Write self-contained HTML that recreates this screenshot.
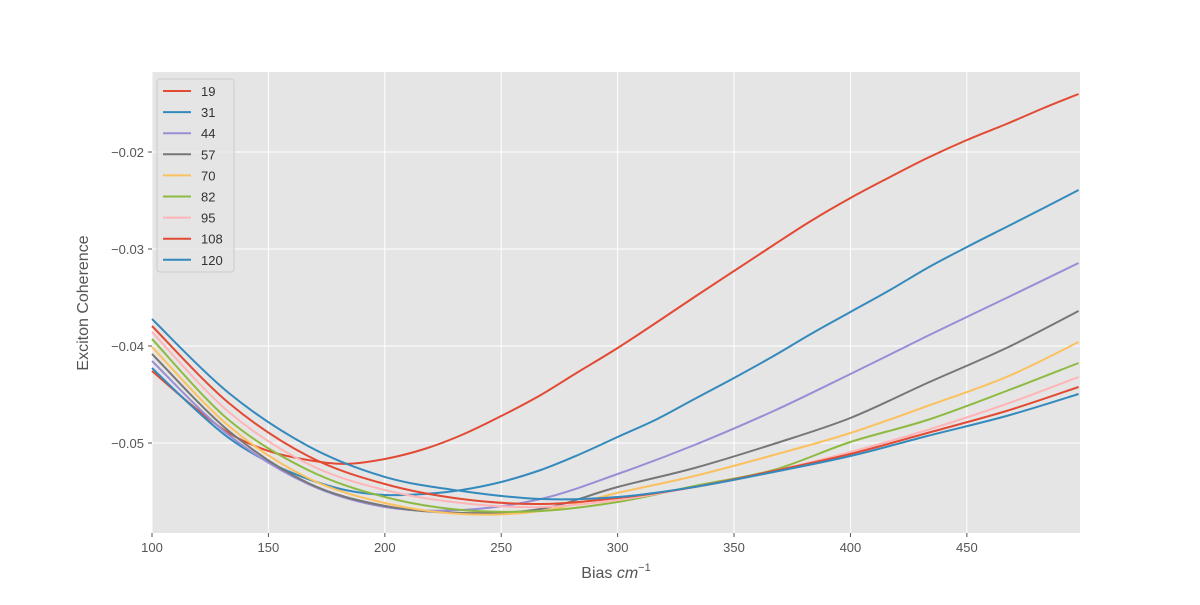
<!DOCTYPE html>
<html><head><meta charset="utf-8"><style>
body{margin:0;background:#fff;}
svg text{font-family:"Liberation Sans","DejaVu Sans",sans-serif;}
</style></head><body>
<svg id="chart" width="1200" height="600" xmlns="http://www.w3.org/2000/svg">
<rect x="152" y="72" width="928" height="461" fill="#e5e5e5"/>
<g id="grid"></g><g id="ticks"></g><g id="lines"></g><g id="legend"></g>
<text x="616" y="578" text-anchor="middle" font-size="16" fill="#555">Bias <tspan font-style="italic">cm</tspan><tspan font-size="11" dy="-7">−1</tspan></text>
<text transform="translate(88,303) rotate(-90)" text-anchor="middle" font-size="16" fill="#555">Exciton Coherence</text>
</svg>
<script>
const seriesNames = ["19","31","44","57","70","82","95","108","120"];
const colors = ["#E24A33","#348ABD","#988ED5","#777777","#FBC15E","#8EBA42","#FFB5B8","#E24A33","#348ABD"];
const xFine = [100,117,133,150,167,183,200,217,233,250,267,283,300,317,333,350,367,383,400,417,433,450,467,483,498];
const xCoarse = [100,133,167,200,233,267,300,333,367,400,433,467,498];
const y19 = [-0.04258,-0.04608,-0.04897,-0.05082,-0.05175,-0.05216,-0.05165,-0.05062,-0.04918,-0.04722,-0.04505,-0.04268,-0.04021,-0.03753,-0.03495,-0.03227,-0.02959,-0.02711,-0.02474,-0.02258,-0.02062,-0.01876,-0.01711,-0.01546,-0.01402];
const y31 = [-0.04227,-0.04619,-0.04948,-0.05196,-0.05371,-0.05485,-0.05536,-0.05526,-0.05485,-0.05402,-0.05278,-0.05124,-0.04938,-0.04753,-0.04546,-0.0433,-0.04103,-0.03876,-0.03649,-0.03423,-0.03196,-0.02979,-0.02773,-0.02577,-0.02392];
const y44 = [-0.04155,-0.04918,-0.05423,-0.0566,-0.05691,-0.05577,-0.0532,-0.05021,-0.0467,-0.04289,-0.03897,-0.03505,-0.03144];
const y57 = [-0.04082,-0.04876,-0.05412,-0.05649,-0.05722,-0.0568,-0.05454,-0.05258,-0.0501,-0.04742,-0.04381,-0.04021,-0.03639];
const y70 = [-0.0401,-0.04825,-0.05361,-0.05619,-0.05732,-0.05701,-0.05515,-0.0534,-0.05124,-0.04897,-0.04619,-0.0432,-0.03959];
const y82 = [-0.03928,-0.04763,-0.05278,-0.05557,-0.05691,-0.05701,-0.05608,-0.05443,-0.05278,-0.0499,-0.04763,-0.04464,-0.04175];
const y95 = [-0.03856,-0.0468,-0.05216,-0.05485,-0.05619,-0.0566,-0.05588,-0.05454,-0.05289,-0.05093,-0.04866,-0.04598,-0.0432];
const y108 = [-0.03794,-0.04588,-0.05134,-0.05423,-0.05577,-0.05629,-0.05567,-0.05454,-0.05289,-0.05113,-0.04897,-0.0467,-0.04423];
const y120 = [-0.03722,-0.04485,-0.05031,-0.0535,-0.05495,-0.05577,-0.05557,-0.05454,-0.05299,-0.05134,-0.04928,-0.04722,-0.04495];
const xTicks = [100,150,200,250,300,350,400,450];
const yTicks = [-0.05,-0.04,-0.03,-0.02];
const yTickLabels = ["−0.05","−0.04","−0.03","−0.02"];

const NS="http://www.w3.org/2000/svg";
const X0=152,X1=1080,Y0=72,Y1=533, xmin=100,xmax=498.6, ymin=-0.05928,ymax=-0.01175;
const sx=v=>X0+(v-xmin)/(xmax-xmin)*(X1-X0);
const sy=v=>Y1-(v-ymin)/(ymax-ymin)*(Y1-Y0);
function mk(tag,attrs,parent){const e=document.createElementNS(NS,tag);for(const k in attrs)e.setAttribute(k,attrs[k]);parent.appendChild(e);return e;}
const grid=document.getElementById('grid'),ticks=document.getElementById('ticks');
xTicks.forEach(t=>{
  const l=mk('line',{x1:sx(t),x2:sx(t),y1:Y0,y2:Y1,stroke:'#fff','stroke-width':1},grid);
  
  
  mk('line',{x1:sx(t),x2:sx(t),y1:Y1,y2:Y1+4,stroke:'#555'},ticks);
  const tx=mk('text',{x:sx(t),y:Y1+19,'text-anchor':'middle','font-size':13,fill:'#555'},ticks);
  tx.textContent=t;
  
  
});
yTicks.forEach((t,i)=>{
  const l=mk('line',{x1:X0,x2:X1,y1:sy(t),y2:sy(t),stroke:'#fff','stroke-width':1},grid);
  
  
  mk('line',{x1:X0-4,x2:X0,y1:sy(t),y2:sy(t),stroke:'#555'},ticks);
  const tx=mk('text',{x:X0-8,y:sy(t)+5,'text-anchor':'end','font-size':13,fill:'#555'},ticks);
  tx.textContent=yTickLabels[i];
  
  
});
const allY=[y19,y31,y44,y57,y70,y82,y95,y108,y120];
const allX=[xFine,xFine,xCoarse,xCoarse,xCoarse,xCoarse,xCoarse,xCoarse,xCoarse];
function smoothPath(P){
  let d='M'+P[0][0].toFixed(1)+','+P[0][1].toFixed(1);
  for(let i=0;i<P.length-1;i++){
    const p0=P[Math.max(0,i-1)],p1=P[i],p2=P[i+1],p3=P[Math.min(P.length-1,i+2)];
    const c1=[p1[0]+(p2[0]-p0[0])/6,p1[1]+(p2[1]-p0[1])/6];
    const c2=[p2[0]-(p3[0]-p1[0])/6,p2[1]-(p3[1]-p1[1])/6];
    d+=' C'+c1[0].toFixed(1)+','+c1[1].toFixed(1)+' '+c2[0].toFixed(1)+','+c2[1].toFixed(1)+' '+p2[0].toFixed(1)+','+p2[1].toFixed(1);
  }
  return d;
}
const lines=document.getElementById('lines');
allY.forEach((ys,i)=>{
  const P=ys.map((v,j)=>[sx(allX[i][j]),sy(v)]);
  const p=mk('path',{d:smoothPath(P),fill:'none',stroke:colors[i],'stroke-width':2,'stroke-linejoin':'round'},lines);
  
  
});
const lg=document.getElementById('legend');
const box=mk('rect',{x:157,y:79,width:77,height:193,rx:3,fill:'#e5e5e5',stroke:'#ccc','fill-opacity':0.8},lg);


seriesNames.forEach((n,i)=>{
  const y=91+i*21.1;
  const l=mk('line',{x1:163,x2:191,y1:y,y2:y,stroke:colors[i],'stroke-width':2},lg);
  
  
  const t=mk('text',{x:201,y:y+5,'font-size':13,fill:'#333'},lg);
  t.textContent=n;
  
  
});
</script>
</body></html>
